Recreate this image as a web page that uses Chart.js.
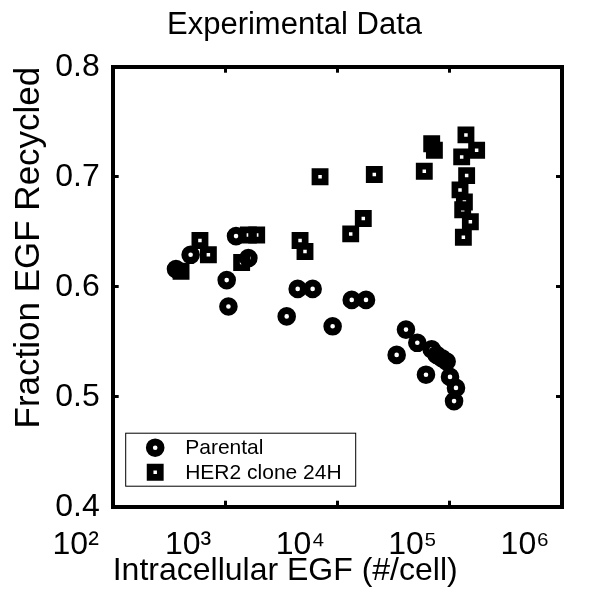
<!DOCTYPE html>
<html lang="en">
<head>
  <meta charset="UTF-8">
  <title>Experimental Data</title>
  <script src="https://cdn.jsdelivr.net/npm/chart.js"></script>
  <style>
    html, body { margin: 0; padding: 0; background: #fff; }
    canvas { display: block; }
  </style>
</head>
<body>
  <canvas id="egfChart" width="589" height="603"></canvas>

  <script>
    // DATA
    const parentalEgf = [366, 494, 1253, 1614, 1035, 1072, 4436, 6026, 3540, 9078, 13430, 17990,
      40830, 51520, 33730, 69180, 76560, 85100, 93970, 61520, 100700, 113800, 109400];
    const parentalFrac = [0.616, 0.629, 0.646, 0.626, 0.606, 0.582, 0.598, 0.598, 0.573, 0.564, 0.588, 0.588,
      0.561, 0.549, 0.538, 0.543, 0.538, 0.535, 0.532, 0.520, 0.518, 0.508, 0.496];

    const her2Egf = [406, 598, 711, 1406, 1614, 1914, 4656, 5152, 7015, 21330, 13150, 17020,
      59430, 69180, 73110, 139600, 173800, 127900, 141600, 123600, 135200, 130600, 152800, 132400];
    const her2Frac = [0.614, 0.642, 0.629, 0.622, 0.647, 0.647, 0.642, 0.632, 0.700, 0.702, 0.648, 0.662,
      0.705, 0.730, 0.724, 0.738, 0.724, 0.718, 0.701, 0.688, 0.677, 0.670, 0.659, 0.645];

    const seriesNames = ['Parental', 'HER2 clone 24H'];
    const xTicks = [1e2, 1e3, 1e4, 1e5, 1e6];
    const yTicks = [0.4, 0.5, 0.6, 0.7, 0.8];

    const FONT = "'Liberation Sans', Arial, Helvetica, sans-serif";
    const SUP = { 2: '\u00B2', 3: '\u00B3', 4: '\u2074', 5: '\u2075', 6: '\u2076' };

    const toPoints = (xs, ys) => xs.map((x, i) => ({ x: x, y: ys[i] }));
    const onlyTicks = list => s => { s.ticks = list.map(v => ({ value: v })); };

    const tickGrid = { drawOnChartArea: false, tickLength: -6, tickWidth: 3, tickColor: '#000' };
    const frame = { display: true, width: 4, color: '#000' };

    // legend with a box, drawn inside the lower-left corner of the plot
    const boxedLegend = {
      id: 'boxedLegend',
      afterDraw(chart) {
        const ctx = chart.ctx;
        const area = chart.chartArea;
        const bx = area.left + 12.5, by = area.bottom - 74, bw = 230, bh = 53;
        ctx.save();
        ctx.fillStyle = '#fff';
        ctx.fillRect(bx, by, bw, bh);
        ctx.strokeStyle = '#000';
        ctx.lineWidth = 1;
        ctx.strokeRect(bx + 0.5, by + 0.5, bw, bh);
        chart.data.datasets.forEach((ds, i) => {
          const cx = bx + 30, cy = by + 15 + i * 24.5;
          ctx.lineWidth = ds.borderWidth;
          ctx.beginPath();
          if (ds.pointStyle === 'circle') {
            ctx.arc(cx, cy, ds.pointRadius, 0, Math.PI * 2);
          } else {
            const h = ds.pointRadius * Math.SQRT1_2;
            ctx.rect(cx - h, cy - h, 2 * h, 2 * h);
          }
          ctx.stroke();
          ctx.fillStyle = '#000';
          ctx.font = '21px ' + FONT;
          ctx.textBaseline = 'middle';
          ctx.fillText(ds.label, bx + 60, cy + 1);
        });
        ctx.restore();
      }
    };

    new Chart(document.getElementById('egfChart'), {
      type: 'scatter',
      data: {
        datasets: [{
          label: seriesNames[0],
          data: toPoints(parentalEgf, parentalFrac),
          pointStyle: 'circle',
          pointRadius: 5.8,
          borderWidth: 7,
          borderColor: '#000',
          backgroundColor: 'rgba(0,0,0,0)'
        }, {
          label: seriesNames[1],
          data: toPoints(her2Egf, her2Frac),
          pointStyle: 'rect',
          pointRadius: 7.2,
          borderWidth: 6.7,
          borderColor: '#000',
          backgroundColor: 'rgba(0,0,0,0)'
        }]
      },
      options: {
        responsive: false,
        animation: false,
        events: [],
        layout: { padding: 0 },
        plugins: {
          legend: { display: false },
          tooltip: { enabled: false },
          title: {
            display: true,
            text: 'Experimental Data',
            color: '#000',
            font: { family: FONT, size: 31, weight: 'normal' },
            padding: { top: 7, bottom: 22.5 }
          }
        },
        scales: {
          x: {
            type: 'logarithmic',
            position: 'bottom',
            min: xTicks[0],
            max: xTicks[xTicks.length - 1],
            afterBuildTicks: onlyTicks(xTicks),
            ticks: {
              callback: v => '10' + SUP[Math.round(Math.log10(v))],
              color: '#000',
              font: { family: FONT, size: 32 },
              padding: 25,
              labelOffset: -37,
              maxRotation: 0,
              autoSkip: false
            },
            grid: tickGrid,
            border: frame,
            title: {
              display: true,
              text: 'Intracellular EGF (#/cell)',
              align: 'start',
              color: '#000',
              font: { family: FONT, size: 32 },
              padding: 13
            },
            afterFit: s => { s.height = 96.3; s.paddingLeft = 0; s.paddingRight = 0; }
          },
          xTop: {
            type: 'logarithmic',
            position: 'top',
            min: xTicks[0],
            max: xTicks[xTicks.length - 1],
            afterBuildTicks: onlyTicks(xTicks),
            ticks: { display: false },
            grid: tickGrid,
            border: frame,
            afterFit: s => { s.height = 0; s.paddingLeft = 0; s.paddingRight = 0; }
          },
          y: {
            type: 'linear',
            position: 'left',
            min: yTicks[0],
            max: yTicks[yTicks.length - 1],
            afterBuildTicks: onlyTicks(yTicks),
            ticks: {
              callback: v => v.toFixed(1),
              color: '#000',
              font: { family: FONT, size: 32 },
              padding: 19
            },
            grid: tickGrid,
            border: frame,
            title: {
              display: true,
              text: 'Fraction EGF Recycled',
              align: 'end',
              color: '#000',
              font: { family: FONT, size: 35 },
              padding: 8
            },
            afterFit: s => { s.width = 112.7; s.paddingTop = 0; s.paddingBottom = 0; }
          },
          yRight: {
            type: 'linear',
            position: 'right',
            min: yTicks[0],
            max: yTicks[yTicks.length - 1],
            afterBuildTicks: onlyTicks(yTicks),
            ticks: { display: false },
            grid: tickGrid,
            border: frame,
            afterFit: s => { s.width = 27; s.paddingTop = 0; s.paddingBottom = 0; }
          }
        }
      },
      plugins: [boxedLegend]
    });
  </script>
</body>
</html>
